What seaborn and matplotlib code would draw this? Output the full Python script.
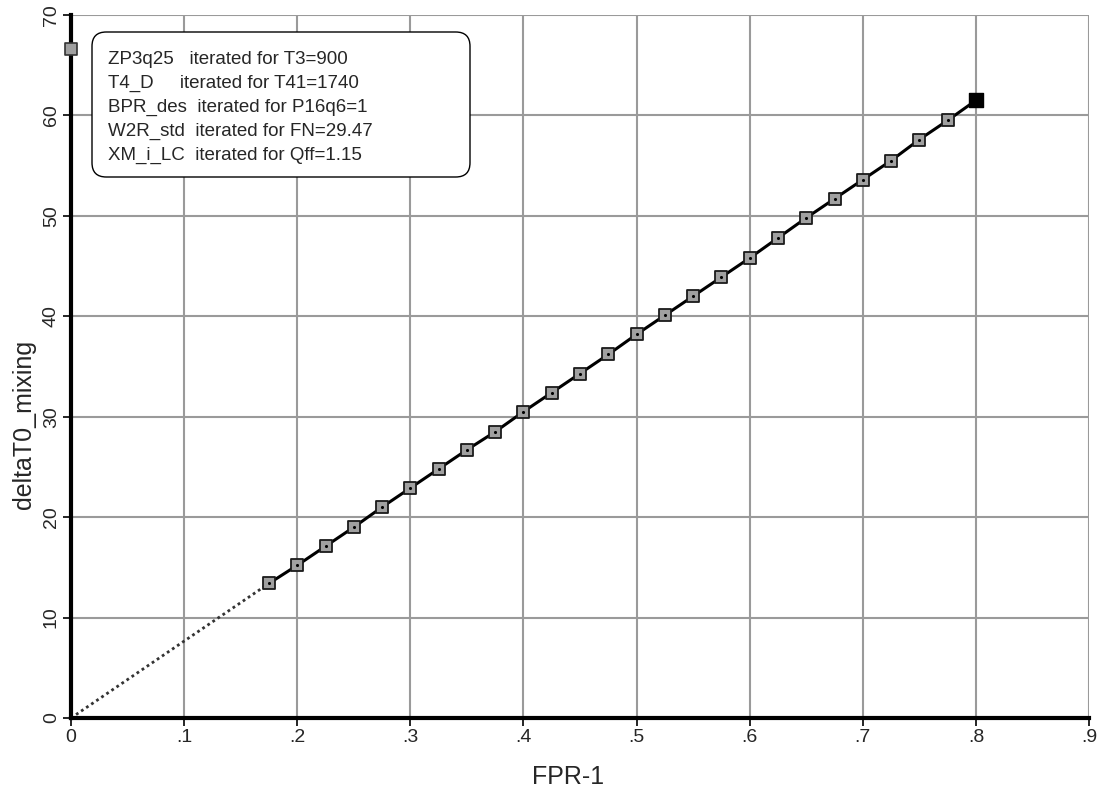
import matplotlib
matplotlib.use("Agg")
import matplotlib.pyplot as plt
from matplotlib.patches import FancyBboxPatch
import seaborn as sns
import pandas as pd

fpr = [0.175, 0.2, 0.225, 0.25, 0.275, 0.3, 0.325, 0.35, 0.375, 0.4, 0.425, 0.45,
       0.475, 0.5, 0.525, 0.55, 0.575, 0.6, 0.625, 0.65, 0.675, 0.7, 0.725, 0.75, 0.775]
dt = [13.4, 15.2, 17.1, 19.0, 21.0, 22.9, 24.8, 26.7, 28.5, 30.5, 32.4, 34.3,
      36.2, 38.2, 40.1, 42.0, 43.9, 45.8, 47.8, 49.8, 51.7, 53.6, 55.5, 57.6, 59.5]
end_x = [0.8]
end_y = [61.5]
dotted_x = [0.0, 0.175]
dotted_y = [0.0, 13.4]
ref_x = [0.0]
ref_y = [66.6]
legend_lines = [
    "ZP3q25   iterated for T3=900",
    "T4_D     iterated for T41=1740",
    "BPR_des  iterated for P16q6=1",
    "W2R_std  iterated for FN=29.47",
    "XM_i_LC  iterated for Qff=1.15",
]
xticks = [0, 0.1, 0.2, 0.3, 0.4, 0.5, 0.6, 0.7, 0.8, 0.9]
xtick_labels = ["0", ".1", ".2", ".3", ".4", ".5", ".6", ".7", ".8", ".9"]
yticks = [0, 10, 20, 30, 40, 50, 60, 70]

sns.set_theme(style="white")
plt.rcParams['font.family'] = ['Liberation Sans', 'DejaVu Sans']

fig = plt.figure(figsize=(10.99, 7.92), dpi=100)
AX_W_PX = 1018
AX_H_PX = 703
ax = fig.add_axes([71 / 1099, 74 / 792, AX_W_PX / 1099, AX_H_PX / 792])

main = pd.DataFrame({"x": fpr + end_x, "y": dt + end_y})
pts = pd.DataFrame({"x": fpr, "y": dt})
sns.lineplot(data=pd.DataFrame({"x": dotted_x, "y": dotted_y}), x="x", y="y", ax=ax,
             color="#333333", linestyle=(0, (1, 1.2)), linewidth=2.0, zorder=3)
sns.lineplot(data=main, x="x", y="y", ax=ax, color="black", linewidth=2.2,
             sort=False, estimator=None, zorder=4)
sns.scatterplot(data=pts, x="x", y="y", ax=ax, marker="s",
                s=72, color="#a0a0a0", edgecolor="#1a1a1a", linewidth=1.3, zorder=5)
sns.scatterplot(data=pts, x="x", y="y", ax=ax, marker="o",
                s=5, color="black", linewidth=0, zorder=6)
sns.scatterplot(data=pd.DataFrame({"x": end_x, "y": end_y}), x="x", y="y", ax=ax, marker="s",
                s=100, color="black", edgecolor="black", linewidth=1, zorder=6)
sns.scatterplot(data=pd.DataFrame({"x": ref_x, "y": ref_y}), x="x", y="y", ax=ax, marker="s",
                s=72, color="#a0a0a0", edgecolor="#333333", linewidth=1.2, zorder=9,
                clip_on=False)

ax.set_xlim(0, 0.9)
ax.set_ylim(0, 70)
ax.set_xticks(xticks)
ax.set_xticklabels(xtick_labels)
ax.set_yticks(yticks)
ax.set_yticklabels([str(v) for v in yticks], rotation=90, va="center")
ax.grid(True, color="#9a9a9a", linewidth=1.5)
ax.set_axisbelow(True)
for s in ["top", "right"]:
    ax.spines[s].set_visible(False)
for s in ["left", "bottom"]:
    ax.spines[s].set_color("black")
    ax.spines[s].set_linewidth(3.0)
    ax.spines[s].set_zorder(8)
ax.tick_params(axis="both", which="both", direction="out", length=6, width=1.2,
               color="black", labelsize=14, left=True, bottom=True, pad=2)
ax.set_xlabel("FPR-1", fontsize=18)
ax.set_ylabel("deltaT0_mixing", fontsize=18)
ax.xaxis.set_label_coords((568 - 71) / AX_W_PX, -47 / AX_H_PX)
ax.yaxis.set_label_coords(-35 / AX_W_PX, 0.418)

# annotation box (pixel layout converted to axes fractions)
box = FancyBboxPatch((21 / AX_W_PX, (718 - 177) / AX_H_PX), 378 / AX_W_PX, 145 / AX_H_PX,
                     boxstyle="round,pad=0,rounding_size=0.014",
                     transform=ax.transAxes, facecolor="white", edgecolor="black",
                     linewidth=1.0, zorder=9, mutation_aspect=AX_W_PX / AX_H_PX)
ax.add_patch(box)
for i, line in enumerate(legend_lines):
    base_px = 64 + 24 * i
    ax.text(37 / AX_W_PX, (718 - base_px) / AX_H_PX, line, transform=ax.transAxes,
            fontsize=13.5, va="baseline", ha="left", zorder=10)

fig.savefig("out.png", dpi=100)
